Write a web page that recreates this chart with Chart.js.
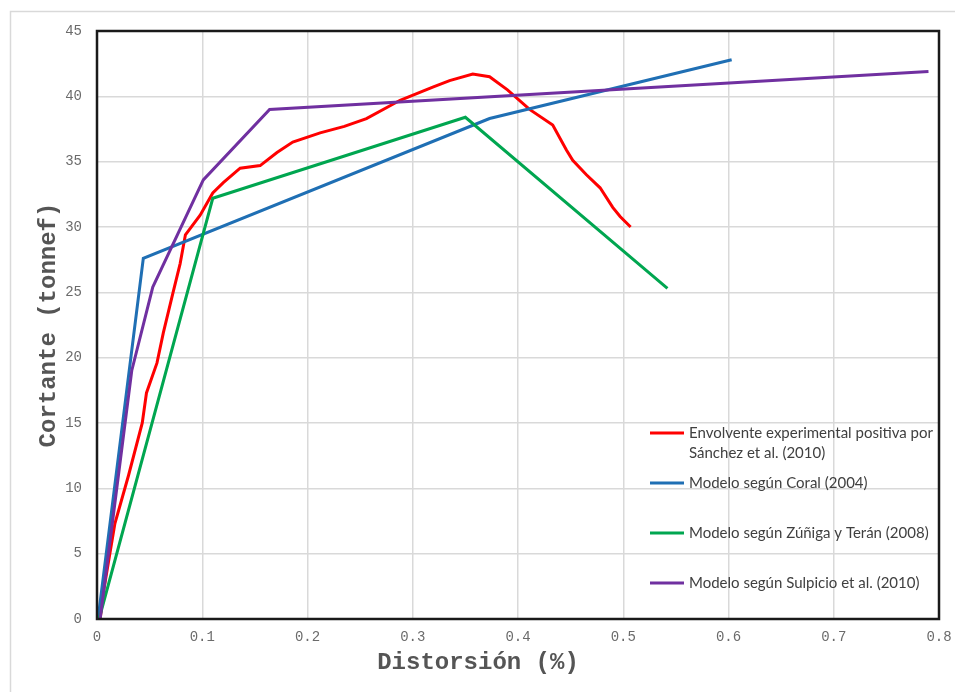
<!DOCTYPE html>
<html>
<head>
<meta charset="utf-8">
<script src="https://cdn.jsdelivr.net/npm/chart.js@4"></script>
<style>
  body { margin: 0; background: #fff; }
  #wrap { width: 955px; height: 692px; position: relative; }
</style>
</head>
<body>
<div id="wrap"><canvas id="chartContainer"></canvas></div>
<script>
// [distorsion %, cortante tonnef]
const envolvente = [
    [0.003, 0], [0.006, 2], [0.017, 7.3], [0.03, 11], [0.043, 15], [0.047, 17.3],
    [0.057, 19.6], [0.063, 21.9], [0.072, 24.9], [0.079, 27.2], [0.084, 29.4],
    [0.098, 30.9], [0.11, 32.6], [0.12, 33.4], [0.136, 34.5], [0.155, 34.7],
    [0.171, 35.7], [0.186, 36.5], [0.212, 37.2], [0.235, 37.7], [0.256, 38.3],
    [0.288, 39.7], [0.319, 40.7], [0.335, 41.2], [0.357, 41.7], [0.373, 41.5],
    [0.39, 40.5], [0.411, 39], [0.433, 37.8], [0.446, 35.9], [0.452, 35.1],
    [0.465, 34], [0.478, 33], [0.49, 31.5], [0.497, 30.8], [0.507, 30]
];
const coral = [[0.001, 0], [0.044, 27.6], [0.373, 38.3], [0.603, 42.8]];
const zunigaTeran = [[0.002, 0], [0.11, 32.2], [0.35, 38.4], [0.542, 25.3]];
const sulpicio = [[0.003, 0], [0.033, 19], [0.053, 25.4], [0.101, 33.6], [0.164, 39], [0.79, 41.9]];

const seriesLabels = [
    'Envolvente experimental positiva por\nSánchez et al. (2010)',
    'Modelo según Coral (2004)',
    'Modelo según Zúñiga y Terán (2008)',
    'Modelo según Sulpicio et al. (2010)'
];
const seriesColors = ['#ff0000', '#1f6fb4', '#00a650', '#7030a0'];
const xTicks = [0, 0.1, 0.2, 0.3, 0.4, 0.5, 0.6, 0.7, 0.8];
const yTicks = [0, 5, 10, 15, 20, 25, 30, 35, 40, 45];
const xTitle = 'Distorsión (%)';
const yTitle = 'Cortante (tonnef)';

const monoFont = '"Courier New", "Liberation Mono", monospace';
const toPoints = pairs => pairs.map(p => ({ x: p[0], y: p[1] }));

// marco gris exterior, marco negro del area de trazado y titulo del eje x
const framePlugin = {
    id: 'frames',
    beforeDraw(chart) {
        const ctx = chart.ctx;
        ctx.save();
        ctx.strokeStyle = '#d9d9d9';
        ctx.lineWidth = 1.5;
        ctx.strokeRect(10.5, 11.5, 1000, 1000);
        ctx.restore();
    },
    afterDraw(chart) {
        const a = chart.chartArea;
        const ctx = chart.ctx;
        ctx.save();
        ctx.strokeStyle = '#1a1a1a';
        ctx.lineWidth = 2.5;
        ctx.strokeRect(a.left, a.top, a.right - a.left, a.bottom - a.top);
        // el titulo del eje x no esta centrado en el area de trazado
        ctx.fillStyle = '#555555';
        ctx.font = 'bold 24px ' + monoFont;
        ctx.textAlign = 'center';
        ctx.textBaseline = 'middle';
        ctx.fillText(xTitle, 478, 663);
        ctx.restore();
    }
};

// leyenda dentro del area de trazado
const legendPlugin = {
    id: 'insideLegend',
    afterDraw(chart) {
        const ctx = chart.ctx;
        const rows = [433, 483, 533, 583];
        ctx.save();
        chart.data.datasets.forEach((ds, i) => {
            const y = rows[i];
            ctx.strokeStyle = ds.borderColor;
            ctx.lineWidth = 3;
            ctx.beginPath();
            ctx.moveTo(650, y);
            ctx.lineTo(684, y);
            ctx.stroke();
            ctx.fillStyle = '#404040';
            ctx.font = '15px Lato, "Open Sans", sans-serif';
            ctx.textBaseline = 'middle';
            ds.label.split('\n').forEach((line, j) => {
                ctx.fillText(line, 689, y + j * 20);
            });
        });
        ctx.restore();
    }
};

function drawChart() {
    const ctx = document.getElementById('chartContainer');
    const allSeries = [envolvente, coral, zunigaTeran, sulpicio];
    window.myChart = new Chart(ctx, {
        type: 'line',
        data: {
            datasets: allSeries.map((s, i) => ({
                label: seriesLabels[i],
                data: toPoints(s),
                borderColor: seriesColors[i],
                borderWidth: 3,
                pointRadius: 0,
                fill: false,
                tension: 0,
                order: 4 - i
            }))
        },
        options: {
            responsive: true,
            maintainAspectRatio: false,
            animation: false,
            layout: { padding: { top: 31, right: 16, left: 0, bottom: 0 } },
            plugins: {
                legend: { display: false },
                tooltip: { enabled: false }
            },
            scales: {
                x: {
                    type: 'linear',
                    position: 'bottom',
                    min: 0,
                    max: 0.8,
                    afterBuildTicks: scale => { scale.ticks = xTicks.map(v => ({ value: v })); },
                    afterFit: scale => {
                        scale.height = 73;
                        scale.paddingLeft = 0;
                        scale.paddingRight = 0;
                    },
                    grid: { color: '#d9d9d9', lineWidth: 1.5, drawTicks: false },
                    border: { display: false },
                    ticks: {
                        padding: 10,
                        color: '#6b6b6b',
                        font: { family: monoFont, size: 14 },
                        callback: v => String(+v.toFixed(1))
                    }
                },
                y: {
                    min: 0,
                    max: 45,
                    afterBuildTicks: scale => { scale.ticks = yTicks.map(v => ({ value: v })); },
                    afterFit: scale => { scale.width = 97; },
                    grid: { color: '#d9d9d9', lineWidth: 1.5, drawTicks: false },
                    border: { display: false },
                    ticks: {
                        padding: 15,
                        color: '#6b6b6b',
                        font: { family: monoFont, size: 14 }
                    },
                    title: {
                        display: true,
                        text: yTitle,
                        color: '#555555',
                        font: { family: monoFont, size: 24, weight: 'bold' },
                        padding: { top: 35, bottom: 0 }
                    }
                }
            }
        },
        plugins: [framePlugin, legendPlugin]
    });
}

drawChart();
</script>
</body>
</html>
